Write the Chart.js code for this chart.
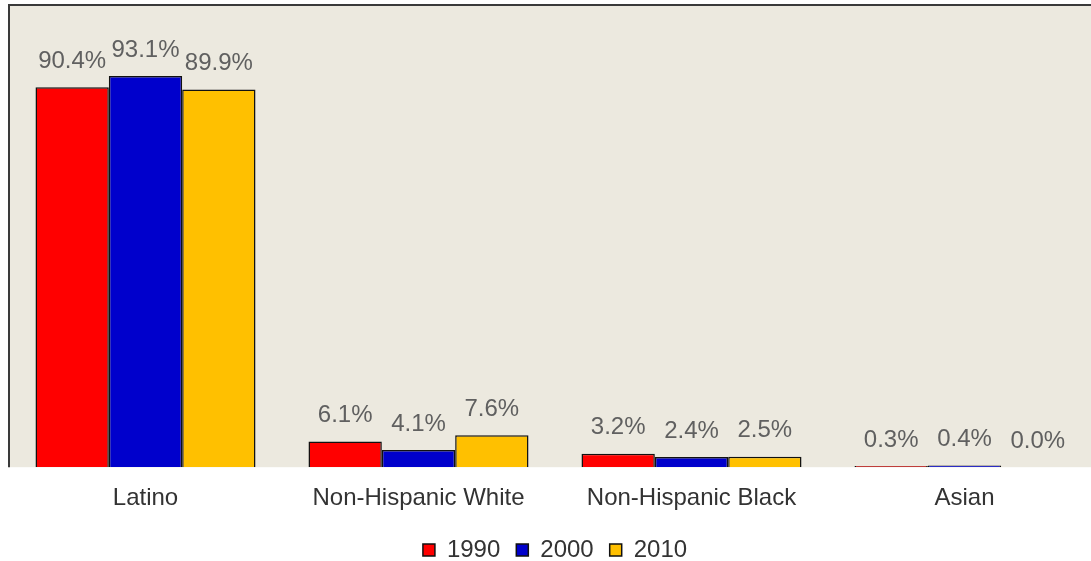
<!DOCTYPE html>
<html>
<head>
<meta charset="utf-8">
<script src="https://cdn.jsdelivr.net/npm/chart.js@4/dist/chart.umd.min.js"></script>
<style>
  html, body { margin: 0; padding: 0; background: #fff; overflow: hidden; }
  #wrap { width: 1102px; height: 561px; }
</style>
</head>
<body>
<div id="wrap"><canvas id="barChart" width="1102" height="561"></canvas></div>
<script>
// Data kategori dan nilai per tahun
const categories = ['Latino', 'Non-Hispanic White', 'Non-Hispanic Black', 'Asian'];
const years = ['1990', '2000', '2010'];
const values1990 = [90.4, 6.1, 3.2, 0.3];
const values2000 = [93.1, 4.1, 2.4, 0.4];
const values2010 = [89.9, 7.6, 2.5, 0.0];

const barColors = ['#FF0000', '#0000CC', '#FFC000'];

// Latar belakang area plot dan garis tepi kiri/atas
const plotBackground = {
    id: 'plotBackground',
    beforeDraw(chart) {
        const { ctx, chartArea: a } = chart;
        ctx.save();
        ctx.fillStyle = '#ECE9DF';
        ctx.fillRect(a.left, a.top, a.right - a.left, a.bottom - a.top);
        ctx.strokeStyle = '#3a3a3a';
        ctx.lineWidth = 2;
        ctx.beginPath();
        ctx.moveTo(a.left, a.bottom);
        ctx.lineTo(a.left, a.top);
        ctx.lineTo(a.right, a.top);
        ctx.stroke();
        ctx.restore();
    }
};

// Label persentase di atas setiap batang
const valueLabels = {
    id: 'valueLabels',
    afterDatasetsDraw(chart) {
        const { ctx } = chart;
        ctx.save();
        ctx.font = '24px "Liberation Sans", Arial, sans-serif';
        ctx.fillStyle = '#606060';
        ctx.textAlign = 'center';
        ctx.textBaseline = 'bottom';
        chart.data.datasets.forEach((ds, i) => {
            chart.getDatasetMeta(i).data.forEach((bar, j) => {
                ctx.fillText(ds.data[j].toFixed(1) + '%', bar.x, bar.y - 14);
            });
        });
        ctx.restore();
    }
};

const seriesValues = [values1990, values2000, values2010];

const ctx = document.getElementById('barChart').getContext('2d');
const barChart = new Chart(ctx, {
    type: 'bar',
    data: {
        labels: categories,
        datasets: years.map((y, i) => ({
            label: y,
            data: seriesValues[i],
            backgroundColor: barColors[i],
            borderColor: '#111',
            borderWidth: 1.5,
            barPercentage: 1,
            categoryPercentage: 0.806
        }))
    },
    options: {
        responsive: false,
        animation: false,
        layout: { padding: { left: 9, top: 5, right: 1, bottom: -11 } },
        scales: {
            x: {
                grid: { display: false },
                border: { display: false },
                ticks: {
                    color: '#333',
                    padding: 9,
                    font: { family: '"Liberation Sans", Arial, sans-serif', size: 24 }
                }
            },
            y: {
                display: false,
                min: 0,
                max: 110
            }
        },
        plugins: {
            legend: {
                position: 'bottom',
                labels: {
                    boxWidth: 12,
                    boxHeight: 12,
                    padding: 16,
                    color: '#333',
                    font: { family: '"Liberation Sans", Arial, sans-serif', size: 24 }
                }
            },
            tooltip: { enabled: false }
        }
    },
    plugins: [plotBackground, valueLabels]
});
</script>
</body>
</html>
